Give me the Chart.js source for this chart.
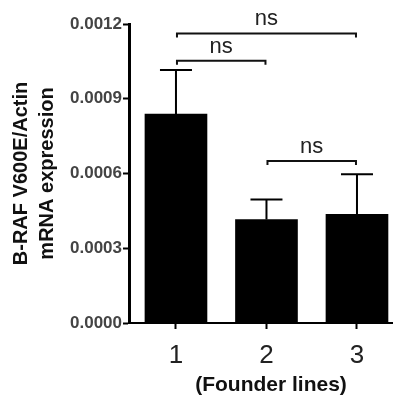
<!DOCTYPE html>
<html lang="en">
<head>
<meta charset="UTF-8">
<title>B-RAF V600E expression</title>
<script src="https://cdn.jsdelivr.net/npm/chart.js"></script>
<style>
  html, body { margin: 0; padding: 0; background: #fff; }
  #wrap { width: 393px; height: 396px; }
</style>
</head>
<body>
<div id="wrap"><canvas id="chart" width="393" height="396"></canvas></div>
<script>
// founder lines and measured values (mean, upper error)
const founderLines = [1, 2, 3];
const xTickLabels = ['1', '2', '3'];
const meanExpression = [0.000838, 0.000415, 0.000436];
const errorExpression = [0.000177, 0.000081, 0.000161];
const yTicks = [0, 0.0003, 0.0006, 0.0009, 0.0012];

// significance comparisons: [from line, to line, bracket height, label]
const compareFrom = [1, 1, 2];
const compareTo = [3, 2, 3];
const compareLevel = [0.001162, 0.001053, 0.00065];
const compareText = ['ns', 'ns', 'ns'];

const FONT = '"Liberation Sans", Arial, sans-serif';

const errorBars = {
  id: 'errorBars',
  afterDatasetsDraw(chart) {
    const { ctx, scales: { x, y } } = chart;
    ctx.save();
    ctx.strokeStyle = '#000';
    ctx.lineWidth = 2;
    founderLines.forEach((line, i) => {
      const px = x.getPixelForValue(line);
      const top = y.getPixelForValue(meanExpression[i] + errorExpression[i]);
      const base = y.getPixelForValue(meanExpression[i]);
      ctx.beginPath();
      ctx.moveTo(px, base);
      ctx.lineTo(px, top);
      ctx.moveTo(px - 16, top);
      ctx.lineTo(px + 16, top);
      ctx.stroke();
    });
    ctx.restore();
  }
};

const brackets = {
  id: 'brackets',
  afterDraw(chart) {
    const { ctx, scales: { x, y } } = chart;
    ctx.save();
    ctx.strokeStyle = '#111';
    ctx.fillStyle = '#222';
    ctx.lineWidth = 2;
    ctx.font = '22px ' + FONT;
    ctx.textAlign = 'center';
    ctx.textBaseline = 'alphabetic';
    compareFrom.forEach((from, i) => {
      const x1 = x.getPixelForValue(from) + 1;
      const x2 = x.getPixelForValue(compareTo[i]) - 1;
      const py = y.getPixelForValue(compareLevel[i]);
      ctx.beginPath();
      ctx.moveTo(x1, py + 4);
      ctx.lineTo(x1, py);
      ctx.lineTo(x2, py);
      ctx.lineTo(x2, py + 4);
      ctx.stroke();
      ctx.fillText(compareText[i], (x1 + x2) / 2, py - 8);
    });

    // x axis title, centred a little right of the middle bar like the original
    ctx.fillStyle = '#111';
    ctx.font = 'bold 21px ' + FONT;
    ctx.textBaseline = 'middle';
    ctx.fillText('(Founder lines)', x.getPixelForValue(2.05), x.bottom - 11);
    ctx.restore();
  }
};

new Chart(document.getElementById('chart'), {
  type: 'bar',
  data: {
    datasets: [{
      data: founderLines.map((line, i) => ({ x: line, y: meanExpression[i] })),
      backgroundColor: '#000',
      borderWidth: 0,
      barThickness: 62
    }]
  },
  options: {
    responsive: false,
    animation: false,
    layout: { padding: { top: 24, right: 0, bottom: 0, left: 0 } },
    plugins: { legend: { display: false }, tooltip: { enabled: false } },
    scales: {
      x: {
        type: 'linear',
        offset: false,
        min: 0.481,
        max: 3.398,
        afterBuildTicks: (s) => { s.ticks = founderLines.map(v => ({ value: v })); },
        afterFit: (s) => { s.height = 73; },
        grid: { display: true, offset: false, drawOnChartArea: false, drawTicks: true, tickLength: 6, tickWidth: 2, tickColor: '#000' },
        border: { display: true, color: '#000', width: 2 },
        ticks: {
          padding: 11,
          color: '#222',
          font: { family: FONT, size: 26 },
          callback: (v) => xTickLabels[founderLines.indexOf(v)]
        }
      },
      y: {
        min: 0,
        max: 0.0012,
        afterBuildTicks: (s) => { s.ticks = yTicks.map(v => ({ value: v })); },
        afterFit: (s) => { s.width = 129; },
        grid: { display: true, drawOnChartArea: false, drawTicks: true, tickLength: 6, tickWidth: 2, tickColor: '#000' },
        border: { display: true, color: '#000', width: 3 },
        ticks: {
          padding: 1,
          color: '#444',
          font: { family: FONT, size: 17, weight: 'bold' },
          callback: (v) => v.toFixed(4)
        },
        title: {
          display: true,
          text: ['B-RAF V600E/Actin', 'mRNA expression'],
          color: '#111',
          padding: { top: 8, bottom: 0 },
          font: { family: FONT, size: 20, weight: 'bold', lineHeight: 1.3 }
        }
      }
    }
  },
  plugins: [errorBars, brackets]
});
</script>
</body>
</html>
